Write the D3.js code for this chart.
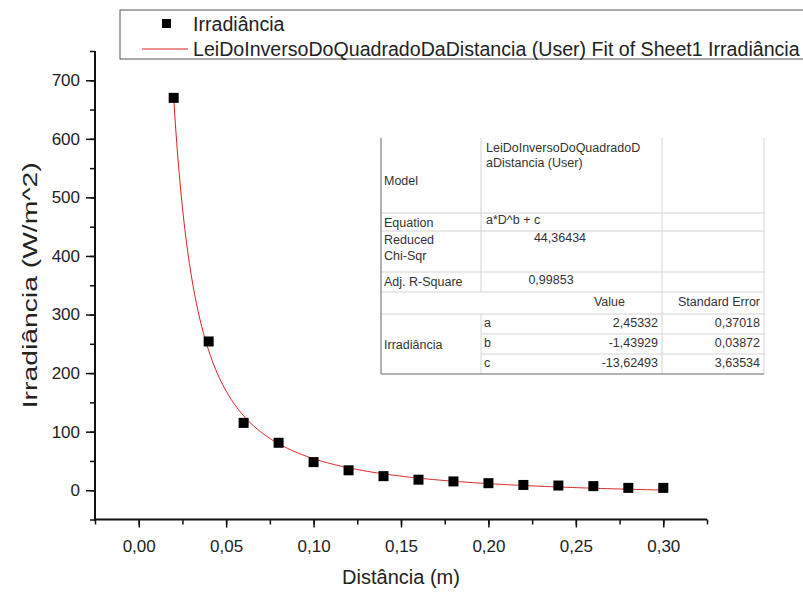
<!DOCTYPE html>
<html>
<head>
<meta charset="utf-8">
<script src="https://cdn.jsdelivr.net/npm/d3@7"></script>
<style>
  body { margin: 0; background: #fff; }
  svg { display: block; font-family: Arial, "Liberation Sans", sans-serif; }
</style>
</head>
<body>
<div id="chart"></div>
<script>
// Data
const distancia = [0.02, 0.04, 0.06, 0.08, 0.10, 0.12, 0.14, 0.16, 0.18, 0.20, 0.22, 0.24, 0.26, 0.28, 0.30]
const irradiancia = [670, 254, 115, 81, 48, 34, 24, 18, 15, 12, 9, 8, 7, 4, 4]

// fit parameters (from the table on the graph)
const fitParams = { a: 2.45332, b: -1.43929, c: -13.62493 }
const paramNames = ['a', 'b', 'c']
const paramValues = ['2,45332', '-1,43929', '-13,62493']
const paramErrors = ['0,37018', '0,03872', '3,63534']

const xMajorTicks = [0, 0.05, 0.10, 0.15, 0.20, 0.25, 0.30]
const yMajorTicks = [0, 100, 200, 300, 400, 500, 600, 700]

const legendLabels = ['Irradiância', 'LeiDoInversoDoQuadradoDaDistancia (User) Fit of Sheet1 Irradiância']

// Dimensions
let dims = {
    width: 803,
    height: 594,
    margin: { top: 51, bottom: 74.5, left: 95, right: 96 }
}
dims.ctrWidth = dims.width - dims.margin.left - dims.margin.right
dims.ctrHeight = dims.height - dims.margin.top - dims.margin.bottom

// Scales
const xScale = d3.scaleLinear()
    .domain([-0.025, 0.325])
    .range([0, dims.ctrWidth])
const yScale = d3.scaleLinear()
    .domain([-50, 750])
    .range([dims.ctrHeight, 0])

const svg = d3.select('#chart')
    .append('svg')
    .attr('width', dims.width)
    .attr('height', dims.height)

svg.append('rect').attr('width', dims.width).attr('height', dims.height).attr('fill', '#fff')

const ctr = svg.append('g')
    .attr('transform', `translate(${dims.margin.left}, ${dims.margin.top})`)

// Axes
const fmtX = d => d3.format('.2f')(d).replace('.', ',')

const xMinor = d3.axisBottom(xScale)
    .tickValues(d3.range(-0.025, 0.3251, 0.025))
    .tickSize(5).tickFormat('')
const xAxis = d3.axisBottom(xScale)
    .tickValues(xMajorTicks)
    .tickSize(8).tickPadding(12)
    .tickFormat(fmtX)

const yMinor = d3.axisLeft(yScale)
    .tickValues(d3.range(-50, 751, 50))
    .tickSize(5).tickFormat('')
const yAxis = d3.axisLeft(yScale)
    .tickValues(yMajorTicks)
    .tickSize(9).tickPadding(6)

function styleAxis(g) {
    g.select('.domain').remove()
    g.selectAll('.tick line').attr('stroke', '#111').attr('stroke-width', 1.5)
    g.selectAll('.tick text')
        .attr('fill', '#222')
        .style('font-size', '17px')
        .style('font-family', 'Arial, "Liberation Sans", sans-serif')
}

ctr.append('g').attr('transform', `translate(0, ${dims.ctrHeight})`).call(xMinor).call(styleAxis)
ctr.append('g').attr('transform', `translate(0, ${dims.ctrHeight})`).call(xAxis).call(styleAxis)
ctr.append('g').call(yMinor).call(styleAxis)
ctr.append('g').call(yAxis).call(styleAxis)

// axis lines
ctr.append('line')
    .attr('x1', -1).attr('x2', dims.ctrWidth)
    .attr('y1', dims.ctrHeight).attr('y2', dims.ctrHeight)
    .attr('stroke', '#111').attr('stroke-width', 2)
ctr.append('line')
    .attr('x1', 0).attr('x2', 0)
    .attr('y1', 0).attr('y2', dims.ctrHeight + 1)
    .attr('stroke', '#111').attr('stroke-width', 2)

// axis titles
svg.append('text')
    .attr('x', dims.margin.left + xScale(0.15))
    .attr('y', 584)
    .attr('text-anchor', 'middle')
    .attr('fill', '#222')
    .style('font-size', '20px')
    .text('Distância (m)')

svg.append('text')
    .attr('transform', `translate(37, ${dims.margin.top + yScale(350)}) rotate(-90)`)
    .attr('text-anchor', 'middle')
    .attr('fill', '#222')
    .attr('textLength', 246)
    .attr('lengthAdjust', 'spacingAndGlyphs')
    .style('font-size', '21px')
    .text('Irradiância (W/m^2)')

// fit curve
const fitX = d3.range(0.02, 0.30001, 0.001)
const fitLine = d3.line()
    .x(d => xScale(d))
    .y(d => yScale(fitParams.a * Math.pow(d, fitParams.b) + fitParams.c))

ctr.append('path')
    .datum(fitX)
    .attr('d', fitLine)
    .attr('fill', 'none')
    .attr('stroke', '#e02020')
    .attr('stroke-width', 1)

// points
const size = 10
ctr.selectAll('rect.pt')
    .data(distancia)
    .join('rect')
    .attr('class', 'pt')
    .attr('x', (d) => xScale(d) - size / 2)
    .attr('y', (d, i) => yScale(irradiancia[i]) - size / 2)
    .attr('width', size)
    .attr('height', size)
    .attr('fill', '#000')

// Legend
const legend = svg.append('g')
legend.append('rect')
    .attr('x', 120).attr('y', 10)
    .attr('width', 700).attr('height', 49)
    .attr('fill', '#fff')
    .attr('stroke', '#555').attr('stroke-width', 1)
legend.append('rect')
    .attr('x', 162).attr('y', 19)
    .attr('width', 9).attr('height', 9)
    .attr('fill', '#000')
legend.append('line')
    .attr('x1', 142).attr('x2', 188)
    .attr('y1', 49).attr('y2', 49)
    .attr('stroke', '#e02020').attr('stroke-width', 1)
legend.selectAll('text')
    .data(legendLabels)
    .join('text')
    .attr('x', 193)
    .attr('y', (d, i) => 31 + i * 25)
    .attr('fill', '#222')
    .style('font-size', '19.6px')
    .text(d => d)

// Fit table
const tbl = svg.append('g').style('font-size', '12.5px').attr('fill', '#333')
const colX = [381, 481, 662, 764]
const rowY = [138, 213, 231, 272, 292, 314, 334, 354, 374]

tbl.append('rect')
    .attr('x', colX[0]).attr('y', rowY[0])
    .attr('width', colX[3] - colX[0]).attr('height', rowY[8] - rowY[0])
    .attr('fill', '#fff')

const light = '#d4d4d4'
// horizontal rules
;[1, 2, 3, 4, 5].forEach(i => {
    tbl.append('line')
        .attr('x1', colX[0]).attr('x2', colX[3])
        .attr('y1', rowY[i]).attr('y2', rowY[i])
        .attr('stroke', light)
})
;[6, 7].forEach(i => {
    tbl.append('line')
        .attr('x1', colX[1]).attr('x2', colX[3])
        .attr('y1', rowY[i]).attr('y2', rowY[i])
        .attr('stroke', light)
})
// vertical rules
tbl.append('line').attr('x1', colX[1]).attr('x2', colX[1])
    .attr('y1', rowY[0]).attr('y2', rowY[4]).attr('stroke', light)
tbl.append('line').attr('x1', colX[1]).attr('x2', colX[1])
    .attr('y1', rowY[5]).attr('y2', rowY[8]).attr('stroke', light)
tbl.append('line').attr('x1', colX[2]).attr('x2', colX[2])
    .attr('y1', rowY[0]).attr('y2', rowY[8]).attr('stroke', light)
tbl.append('line').attr('x1', colX[3]).attr('x2', colX[3])
    .attr('y1', rowY[0]).attr('y2', rowY[8]).attr('stroke', light)
// darker left and bottom border
tbl.append('line').attr('x1', colX[0]).attr('x2', colX[0])
    .attr('y1', rowY[0]).attr('y2', rowY[8]).attr('stroke', '#999').attr('stroke-width', 1.5)
tbl.append('line').attr('x1', colX[0]).attr('x2', colX[3])
    .attr('y1', rowY[8]).attr('y2', rowY[8]).attr('stroke', '#999').attr('stroke-width', 1.5)

const tText = (x, y, s, anchor) => tbl.append('text')
    .attr('x', x).attr('y', y)
    .attr('text-anchor', anchor || 'start')
    .text(s)

tText(384, 185, 'Model')
tText(486, 152, 'LeiDoInversoDoQuadradoD')
tText(486, 167, 'aDistancia (User)')
tText(384, 227, 'Equation')
tText(486, 224, 'a*D^b + c')
tText(384, 244, 'Reduced')
tText(384, 260, 'Chi-Sqr')
tText(560, 242, '44,36434', 'middle')
tText(384, 286, 'Adj. R-Square')
tText(551, 284, '0,99853', 'middle')
tText(625, 306, 'Value', 'end')
tText(760, 306, 'Standard Error', 'end')
tText(384, 349, 'Irradiância')
paramNames.forEach((p, i) => {
    const y = 327 + i * 20
    tText(484, y, p)
    tText(658, y, paramValues[i], 'end')
    tText(760, y, paramErrors[i], 'end')
})
</script>
</body>
</html>
